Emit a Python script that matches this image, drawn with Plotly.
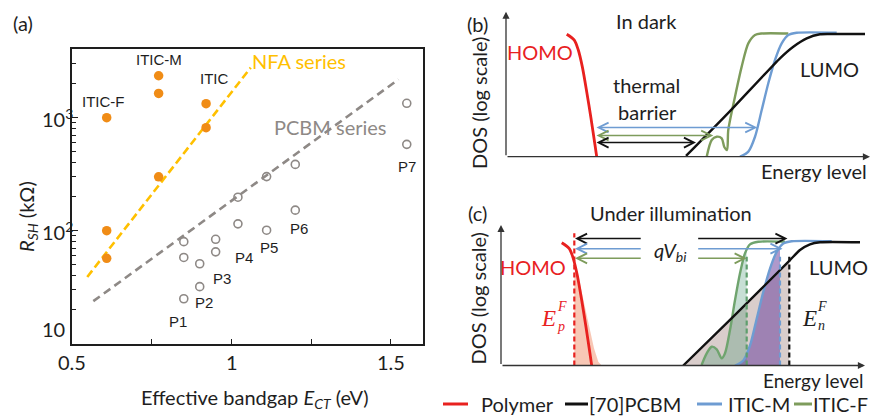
import math
import plotly.graph_objects as go

W, H = 874, 416
FONT = "Lato"
ARIAL = "Liberation Sans"
SERIF = "Liberation Serif"
INK = "#1e1e1e"

ORANGE = "#F08C16"
GOLD = "#FFC000"
GREY = "#8E8986"
RED = "#E8211F"
BLACK = "#111111"
BLUE = "#6E9CD2"
GREEN = "#7E9C5C"

# ================= panel (a): shunt resistance vs effective bandgap =================
nfa_ect = [0.608, 0.608, 0.608, 0.771, 0.771, 0.771, 0.920, 0.920]
nfa_rsh = [1000, 100, 57, 2350, 1640, 300, 1330, 815]
pcbm_ect = [0.85, 0.85, 0.85, 0.90, 0.90, 0.95, 0.95, 1.02, 1.02, 1.11, 1.11, 1.20, 1.20, 1.55, 1.55]
pcbm_rsh = [80, 58, 25, 51, 32, 84, 65, 198, 115, 301, 101, 386, 152, 1340, 581]
nfa_fit_ect = [0.547, 1.060]
nfa_fit_rsh = [39, 2770]
pcbm_fit_ect = [0.566, 1.524]
pcbm_fit_rsh = [23.8, 2180]

acceptor_names = ["ITIC-F", "ITIC-M", "ITIC"]
acceptor_label_ect = [0.597, 0.773, 0.945]
acceptor_label_rsh = [1400, 3240, 2210]
polymer_names = ["P1", "P2", "P3", "P4", "P5", "P6", "P7"]
polymer_label_ect = [0.831, 0.914, 0.969, 1.040, 1.119, 1.213, 1.550]
polymer_label_rsh = [15.8, 23.3, 37.6, 57.7, 70.8, 104, 373]

x_tick_vals = [0.5, 0.75, 1.0, 1.25, 1.5]
x_tick_label_vals = [0.5, 1.0, 1.5]
x_tick_text = ["0.5", "1", "1.5"]
y_tick_text = ["10", "10<sup>2</sup>", "10<sup>3</sup>"]
y_tick_label_pos = [13.4, 100, 1000]

# ================= panels (b), (c): schematic DOS (arbitrary units) =================
polymer_e = [1.668, 1.876, 1.986, 2.096, 2.217, 2.335, 2.445, 2.492]
polymer_dos = [0.994, 0.947, 0.866, 0.731, 0.528, 0.312, 0.095, 0.0]
pcbm_e_dark = [4.945, 6.154, 7.527, 7.893, 8.261, 8.626, 8.901, 9.863]
pcbm_dos_dark = [0.006, 0.370, 0.799, 0.893, 0.961, 0.994, 0.996, 0.996]
pcbm_e_light = [5.008, 6.382, 7.940, 8.214, 8.489, 8.764, 9.863]
pcbm_dos_light = [0.0, 0.395, 0.854, 0.935, 0.981, 0.998, 0.998]
iticm_e = [6.429, 6.657, 6.841, 7.025, 7.206, 7.390, 7.574, 7.755, 7.986, 9.085]
iticm_dos = [0.0, 0.041, 0.162, 0.379, 0.596, 0.785, 0.920, 0.988, 1.006, 1.006]
iticf_e_dark = [5.514, 5.651, 5.788, 5.926, 5.997, 6.071, 6.107, 6.291, 6.475, 6.657, 6.841, 7.025, 7.755]
iticf_dos_dark = [0.0, 0.136, 0.162, 0.149, 0.079, 0.054, 0.217, 0.487, 0.731, 0.920, 0.988, 1.0, 1.0]
iticf_e_light = [5.51, 5.651, 5.788, 5.926, 6.063, 6.154, 6.291, 6.429, 6.566, 6.703, 6.841, 7.069, 7.802]
iticf_dos_light = [0.004, 0.099, 0.152, 0.131, 0.058, 0.099, 0.287, 0.530, 0.746, 0.908, 0.981, 1.002, 1.002]

# filled (occupied) regions under illumination
polymer_fill_e = [2.014, 2.097, 2.354, 2.555, 2.673, 2.766, 2.014]
polymer_fill_dos = [0.76, 0.76, 0.409, 0.139, 0.031, 0.0, 0.0]
pcbm_fill_e = [5.008, 6.382, 7.920, 7.920]
pcbm_fill_dos = [0.0, 0.395, 0.85, 0.0]
iticm_fill_e = [6.429, 6.657, 6.841, 7.025, 7.206, 7.390, 7.574, 7.665, 7.665]
iticm_fill_dos = [0.0, 0.041, 0.162, 0.379, 0.596, 0.785, 0.920, 0.94, 0.0]
iticf_fill_e = [5.51, 5.651, 5.788, 5.926, 6.063, 6.154, 6.291, 6.429, 6.566, 6.703, 6.750, 6.750]
iticf_fill_dos = [0.004, 0.099, 0.152, 0.131, 0.058, 0.099, 0.287, 0.530, 0.746, 0.908, 0.93, 0.0]

# quasi-Fermi levels (energy, top of the dashed marker)
fermi_e = [2.014, 6.750, 7.665, 7.920]
fermi_top = [1.07, 0.88, 0.88, 0.88]
fermi_colors = [RED, "#5E9E6C", BLUE, BLACK]

# thermal-barrier arrows (dark): start, end, height
barrier_start = 2.445
barrier_end = [6.904, 5.695, 5.220]
barrier_dos = [0.237, 0.172, 0.115]
barrier_colors = [BLUE, GREEN, BLACK]

# qV_bi arrows (light)
qv_left = [2.033, 3.880]
qv_right_start = 5.376
qv_right_end = [7.871, 7.734, 6.750]
qv_dos = [1.028, 0.946, 0.868]
qv_colors = [BLACK, BLUE, GREEN]

E_MAX = 10.0
DOS_TOP_B = 1.177
DOS_TOP_C = 1.138

legend_names = ["Polymer", "[70]PCBM", "ITIC-M", "ITIC-F"]
legend_colors = [RED, BLACK, BLUE, GREEN]

fig = go.Figure()

def sc(**kw):
    kw.setdefault("showlegend", False)
    kw.setdefault("hoverinfo", "skip")
    fig.add_trace(go.Scatter(**kw))

# ---- (a)
sc(x=nfa_fit_ect, y=nfa_fit_rsh, mode="lines", line=dict(color=GOLD, width=2.6, dash="8px,4px"), xaxis="x", yaxis="y")
sc(x=pcbm_fit_ect, y=pcbm_fit_rsh, mode="lines", line=dict(color=GREY, width=2.6, dash="8px,5px"), xaxis="x", yaxis="y")
sc(x=nfa_ect, y=nfa_rsh, mode="markers", marker=dict(color=ORANGE, size=9.5), xaxis="x", yaxis="y")
sc(x=pcbm_ect, y=pcbm_rsh, mode="markers",
   marker=dict(symbol="circle-open", color=GREY, size=8, line=dict(width=1.6, color=GREY)), xaxis="x", yaxis="y")

# ---- (b) in dark
sc(x=polymer_e, y=polymer_dos, line=dict(color=RED, width=2.8, shape="spline", smoothing=0.8), mode="lines", xaxis="x2", yaxis="y2")
sc(x=iticf_e_dark, y=iticf_dos_dark, line=dict(color=GREEN, width=2.4, shape="spline", smoothing=0.8), mode="lines", xaxis="x2", yaxis="y2")
sc(x=iticm_e, y=iticm_dos, line=dict(color=BLUE, width=2.4, shape="spline", smoothing=0.8), mode="lines", xaxis="x2", yaxis="y2")
sc(x=pcbm_e_dark, y=pcbm_dos_dark, line=dict(color=BLACK, width=2.4, shape="spline", smoothing=0.6), mode="lines", xaxis="x2", yaxis="y2")

# ---- (c) under illumination: fills
sc(x=polymer_fill_e, y=polymer_fill_dos, mode="lines", fill="toself", fillcolor="rgba(240,130,90,0.45)", line=dict(width=0), xaxis="x3", yaxis="y3")
sc(x=pcbm_fill_e, y=pcbm_fill_dos, mode="lines", fill="toself", fillcolor="rgba(165,135,130,0.42)", line=dict(width=0), xaxis="x3", yaxis="y3")
sc(x=iticf_fill_e, y=iticf_fill_dos, mode="lines", fill="toself", fillcolor="rgba(70,150,115,0.30)", line=dict(width=0), xaxis="x3", yaxis="y3")
sc(x=iticm_fill_e, y=iticm_fill_dos, mode="lines", fill="toself", fillcolor="rgba(110,70,160,0.55)", line=dict(width=0), xaxis="x3", yaxis="y3")
# curves
sc(x=polymer_e, y=polymer_dos, line=dict(color=RED, width=2.8, shape="spline", smoothing=0.8), mode="lines", xaxis="x3", yaxis="y3")
sc(x=iticf_e_light, y=iticf_dos_light, line=dict(color="#6FA46E", width=2.4, shape="spline", smoothing=0.8), mode="lines", xaxis="x3", yaxis="y3")
sc(x=iticm_e, y=iticm_dos, line=dict(color=BLUE, width=2.4, shape="spline", smoothing=0.8), mode="lines", xaxis="x3", yaxis="y3")
sc(x=pcbm_e_light, y=pcbm_dos_light, line=dict(color=BLACK, width=2.4, shape="spline", smoothing=0.6), mode="lines", xaxis="x3", yaxis="y3")
# quasi-Fermi level markers
for e, top, col in zip(fermi_e, fermi_top, fermi_colors):
    sc(x=[e, e], y=[0, top], mode="lines", line=dict(color=col, width=2.2, dash="5px,3px"), xaxis="x3", yaxis="y3")

ann = []

def T(text, x, y, size=20, color=INK, family=FONT, xanchor="center", yanchor="middle", angle=0):
    ann.append(dict(text=text, x=x / W, y=1 - y / H, xref="paper", yref="paper", showarrow=False,
                    xanchor=xanchor, yanchor=yanchor, textangle=angle, borderpad=0,
                    font=dict(family=family, size=size, color=color)))

def arrow(xr, yr, x, y, ax, ay, color, head=5, both=False, width=1.5, size=1.3):
    d = dict(text="", x=x, y=y, ax=ax, ay=ay, xref=xr, yref=yr, axref=xr, ayref=yr,
             showarrow=True, arrowhead=head, arrowsize=size, arrowwidth=width, arrowcolor=color,
             standoff=0, startstandoff=0)
    if both:
        d.update(arrowside="end+start", startarrowhead=head, startarrowsize=size)
    ann.append(d)

# ---- (a) labels
for name, e, r in zip(acceptor_names, acceptor_label_ect, acceptor_label_rsh):
    ann.append(dict(text=name, x=e, y=math.log10(r), xref="x", yref="y", showarrow=False,
                    font=dict(family=ARIAL, size=15, color=INK)))
for name, e, r in zip(polymer_names, polymer_label_ect, polymer_label_rsh):
    ann.append(dict(text=name, x=e, y=math.log10(r), xref="x", yref="y", showarrow=False,
                    font=dict(family=ARIAL, size=15, color=INK)))
ann.append(dict(text="NFA series", x=1.213, y=3.50, xref="x", yref="y", showarrow=False,
                font=dict(family=FONT, size=20, color=GOLD)))
ann.append(dict(text="PCBM series", x=1.311, y=2.916, xref="x", yref="y", showarrow=False,
                font=dict(family=FONT, size=20, color=GREY)))
for txt, v in zip(y_tick_text, y_tick_label_pos):
    ann.append(dict(text=txt, x=40 / W, y=math.log10(v), xref="paper", yref="y", showarrow=False,
                    xanchor="left", yanchor="middle", font=dict(family=FONT, size=20, color=INK)))
for txt, v in zip(x_tick_text, x_tick_label_vals):
    ann.append(dict(text=txt, x=v, y=1 - 362 / H, xref="x", yref="paper", showarrow=False,
                    xanchor="center", yanchor="middle", font=dict(family=FONT, size=20, color=INK)))
T("(a)", 23, 23)
T("<i>R</i><sub><i>SH</i></sub> (kΩ)", 27, 217, angle=-90)
T("Effective bandgap <i>E</i><sub><i>CT</i></sub> (eV)", 255, 398)

# ---- (b) axes, arrows, text
arrow("x2", "y2", 0, DOS_TOP_B, 0, 0, "#333333", head=2, width=1.3, size=1.1)
arrow("x2", "y2", E_MAX, 0, 0, 0, "#333333", head=2, width=1.3, size=1.1)
for end, h, col in zip(barrier_end, barrier_dos, barrier_colors):
    arrow("x2", "y2", end, h, barrier_start, h, col, both=True)
T("(b)", 477.5, 24)
T("In dark", 646, 21)
T("HOMO", 539.5, 52, color=RED)
T("thermal", 646, 85)
T("barrier", 647, 112)
T("LUMO", 829, 69)
T("Energy level", 868, 171, xanchor="right")
T("DOS (log scale)", 479, 103, angle=-90)

# ---- (c) axes, arrows, text
arrow("x3", "y3", 0, DOS_TOP_C, 0, 0, "#333333", head=2, width=1.3, size=1.1)
arrow("x3", "y3", E_MAX, 0, 0, 0, "#333333", head=2, width=1.3, size=1.1)
for end, h, col in zip(qv_right_end, qv_dos, qv_colors):
    arrow("x3", "y3", qv_left[0], h, qv_left[1], h, col)
    arrow("x3", "y3", end, h, qv_right_start, h, col)
T("(c)", 477.5, 212.5)
T("Under illumination", 671, 213)
T("HOMO", 533, 267, color=RED)
T("LUMO", 838, 267)
T("Energy level", 864, 380, size=19, xanchor="right")
T("DOS (log scale)", 477.5, 299, angle=-90)
T("<i>qV</i><sub><i>bi</i></sub>", 670, 252)
T("<i>E</i>", 548, 318, size=23, color=RED, family=SERIF)
T("<i>F</i>", 561.5, 306, size=14, color=RED, family=SERIF)
T("<i>p</i>", 561, 326, size=14, color=RED, family=SERIF)
T("<i>E</i>", 809, 318, size=23, color=INK, family=SERIF)
T("<i>F</i>", 821.5, 306, size=14, color=INK, family=SERIF)
T("<i>n</i>", 821, 325, size=14, color=INK, family=SERIF)

# ---- manual legend
shapes = []
leg_line_x = [(443, 468), (565, 588), (697, 722), (794, 812)]
leg_text_x = [480, 588, 727, 812]
for (x0, x1), tx, name, col in zip(leg_line_x, leg_text_x, legend_names, legend_colors):
    shapes.append(dict(type="line", xref="paper", yref="paper", x0=x0 / W, x1=x1 / W,
                       y0=1 - 404 / H, y1=1 - 404 / H, line=dict(color=col, width=3)))
    T(name, tx, 404, size=20, xanchor="left")

hidden = dict(visible=False, showgrid=False, zeroline=False, fixedrange=True)

fig.update_layout(
    width=W, height=H, margin=dict(l=0, r=0, t=0, b=0),
    paper_bgcolor="white", plot_bgcolor="white", showlegend=False,
    font=dict(family=FONT, color=INK),
    xaxis=dict(domain=[72.3 / W, 422.7 / W], range=[0.5, 1.6], showline=True, mirror=True,
               linecolor=INK, linewidth=1.5, ticks="inside", ticklen=6, tickwidth=1.2, tickcolor=INK,
               tickmode="array", tickvals=x_tick_vals, showticklabels=False,
               showgrid=False, zeroline=False),
    yaxis=dict(type="log", domain=[1 - 344.3 / H, 1 - 49.3 / H], range=[0.995, 3.605], showline=True,
               mirror=True, linecolor=INK, linewidth=1.5, ticks="inside", ticklen=6, tickwidth=1.2,
               tickcolor=INK, tickmode="linear", tick0=0, dtick=1, showticklabels=False,
               showgrid=False, zeroline=False,
               minor=dict(ticks="inside", ticklen=3.5, tickwidth=1, tickcolor=INK, dtick="D1", showgrid=False)),
    xaxis2=dict(domain=[506 / W, 870 / W], range=[0, E_MAX], anchor="y2", **hidden),
    yaxis2=dict(domain=[1 - 156.7 / H, 1 - 11.32 / H], range=[0, 1.18], anchor="x2", **hidden),
    xaxis3=dict(domain=[501 / W, 865 / W], range=[0, E_MAX], anchor="y3", **hidden),
    yaxis3=dict(domain=[1 - 365.5 / H, 1 - 219.77 / H], range=[0, 1.18], anchor="x3", **hidden),
    annotations=ann, shapes=shapes,
)

fig.write_html("out.html")
